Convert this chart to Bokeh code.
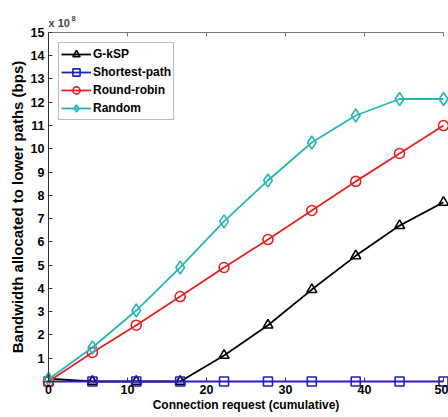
from bokeh.plotting import figure
from bokeh.models import LinearAxis, Legend, LegendItem, Label, FixedTicker
from bokeh.embed import file_html
from bokeh.resources import INLINE

# data
x_requests = [0, 5.56, 11.11, 16.67, 22.22, 27.78, 33.33, 38.89, 44.44, 50]
gksp = [0.12, 0, 0, 0, 1.12, 2.42, 3.95, 5.4, 6.7, 7.7]
shortest = [0, 0, 0, 0, 0, 0, 0, 0, 0, 0]
round_robin = [0, 1.25, 2.42, 3.65, 4.9, 6.1, 7.35, 8.6, 9.8, 11.0]
random_ = [0.1, 1.46, 3.05, 4.9, 6.88, 8.64, 10.27, 11.43, 12.14, 12.14]
x_ticks = [0, 10, 20, 30, 40, 50]
y_ticks = list(range(0, 16))

FONT = "Liberation Sans"
W, H = 448, 417
PX_X = 7.9      # pixels per x unit
PX_Y = 23.27    # pixels per y unit
X0, Y0 = 48, 381  # screen position of the data origin

p = figure(width=W, height=H, output_backend="svg", toolbar_location=None,
           x_range=(-X0 / PX_X, (W - X0) / PX_X),
           y_range=(-(H - Y0) / PX_Y, Y0 / PX_Y),
           min_border=0, x_axis_location=None, y_axis_location=None)
p.outline_line_color = None
p.grid.visible = False
p.background_fill_color = "white"
p.border_fill_color = "white"

def style_axis(ax):
    ax.axis_line_color = "#333333"
    ax.axis_line_width = 1
    ax.major_tick_in = 4
    ax.major_tick_out = 0
    ax.minor_tick_line_color = None
    ax.major_tick_line_color = "#333333"
    ax.major_label_text_font = FONT
    ax.major_label_text_font_style = "bold"
    ax.major_label_text_font_size = "12.5px"
    ax.major_label_text_color = "black"
    ax.axis_label_text_font = FONT
    ax.axis_label_text_font_style = "bold"
    ax.axis_label_text_color = "black"

xaxis = LinearAxis(fixed_location=0, ticker=FixedTicker(ticks=x_ticks), bounds=(0, 50),
                   axis_label="Connection request (cumulative)")
style_axis(xaxis)
xaxis.axis_label_text_font_size = "12px"
xaxis.major_label_standoff = 3
xaxis.axis_label_standoff = 1
p.add_layout(xaxis, "below")

yaxis = LinearAxis(fixed_location=0, ticker=FixedTicker(ticks=y_ticks), bounds=(0, 15),
                   axis_label="Bandwidth allocated to lower paths (bps)")
style_axis(yaxis)
yaxis.axis_label_text_font_size = "15px"
yaxis.major_label_overrides = {0: ""}
yaxis.major_label_standoff = 4
yaxis.axis_label_standoff = 2
p.add_layout(yaxis, "left")

top = LinearAxis(fixed_location=15, ticker=FixedTicker(ticks=x_ticks), bounds=(0, 50))
style_axis(top)
top.axis_line_color = "#777777"
top.major_tick_line_color = "#777777"
top.major_label_overrides = {t: "" for t in x_ticks}
p.add_layout(top, "above")

series = [
    ("G-kSP", gksp, "black", "triangle", 10),
    ("Shortest-path", shortest, "#2222b0", "square", 9),
    ("Round-robin", round_robin, "#e32222", "circle", 10),
    ("Random", random_, "#2ab5b5", "diamond", 13),
]
items = []
for name, ys, color, marker, size in series:
    ln = p.line(x_requests, ys, line_color=color, line_width=1.8)
    sc = p.scatter(x_requests, ys, marker=marker, size=size, line_color=color,
                   fill_color=None, line_width=1.6)
    items.append(LegendItem(label=name, renderers=[ln, sc]))

legend = Legend(items=items, location=(58, H - 44 - 76))
legend.margin = 0
legend.label_text_font = FONT
legend.label_text_font_style = "bold"
legend.label_text_font_size = "12px"
legend.label_text_color = "black"
legend.glyph_width = 30
legend.glyph_height = 18
legend.label_height = 15
legend.spacing = 0
legend.padding = 2
legend.label_standoff = 2
legend.border_line_color = "#777777"
legend.border_line_width = 1
legend.background_fill_alpha = 1
p.add_layout(legend, "center")

p.add_layout(Label(x=0, y=15, text="x 10", text_font=FONT, text_font_style="bold",
                   text_font_size="11px", text_baseline="bottom", x_offset=0, y_offset=3))
p.add_layout(Label(x=0, y=15, text="8", text_font=FONT, text_font_style="bold",
                   text_font_size="7.5px", text_baseline="bottom", x_offset=23, y_offset=11))

open("out.html", "w").write(file_html(p, INLINE))
